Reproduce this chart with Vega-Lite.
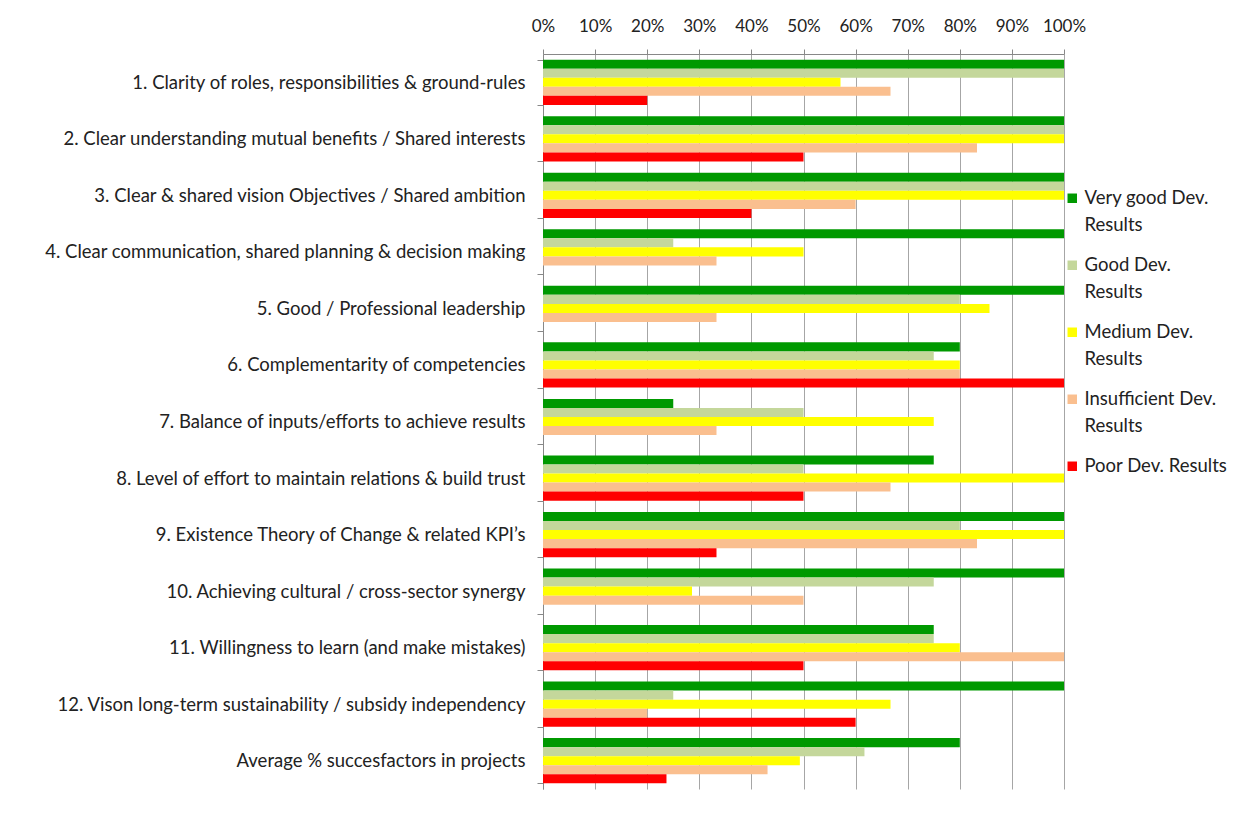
{
  "$schema": "https://vega.github.io/schema/vega-lite/v6.json",
  "width": 521,
  "height": 735,
  "autosize": {"type": "none"},
  "padding": {"left": 543, "top": 54, "right": 184, "bottom": 25},
  "background": "white",
  "data": {
    "values": [
      {"c": "1. Clarity of roles, responsibilities & ground-rules", "a": 1, "b": 1, "m": 0.571, "i": 0.667, "p": 0.2},
      {"c": "2. Clear understanding mutual benefits / Shared interests", "a": 1, "b": 1, "m": 1, "i": 0.833, "p": 0.5},
      {"c": "3. Clear & shared vision Objectives / Shared ambition", "a": 1, "b": 1, "m": 1, "i": 0.6, "p": 0.4},
      {"c": "4. Clear communication, shared planning & decision making", "a": 1, "b": 0.25, "m": 0.5, "i": 0.333, "p": 0},
      {"c": "5. Good / Professional leadership", "a": 1, "b": 0.8, "m": 0.857, "i": 0.333, "p": 0},
      {"c": "6. Complementarity of competencies", "a": 0.8, "b": 0.75, "m": 0.8, "i": 0.8, "p": 1},
      {"c": "7. Balance of inputs/efforts to achieve results", "a": 0.25, "b": 0.5, "m": 0.75, "i": 0.333, "p": 0},
      {"c": "8. Level of effort to maintain relations & build trust", "a": 0.75, "b": 0.5, "m": 1, "i": 0.667, "p": 0.5},
      {"c": "9. Existence Theory of Change & related KPI’s", "a": 1, "b": 0.8, "m": 1, "i": 0.833, "p": 0.333},
      {"c": "10. Achieving cultural / cross-sector synergy ", "a": 1, "b": 0.75, "m": 0.286, "i": 0.5, "p": 0},
      {"c": "11. Willingness to learn (and make mistakes)", "a": 0.75, "b": 0.75, "m": 0.8, "i": 1, "p": 0.5},
      {"c": "12. Vison long-term sustainability / subsidy independency", "a": 1, "b": 0.25, "m": 0.667, "i": 0.2, "p": 0.6},
      {"c": "Average % succesfactors in projects", "a": 0.8, "b": 0.617, "m": 0.493, "i": 0.431, "p": 0.237}
    ]
  },
  "transform": [{"fold": ["a", "b", "m", "i", "p"], "as": ["k", "v"]}],
  "mark": {"type": "bar"},
  "encoding": {
    "y": {
      "field": "c",
      "type": "nominal",
      "sort": null,
      "scale": {"paddingInner": 0.2, "paddingOuter": 0.1},
      "axis": {
        "title": null,
        "tickBand": "extent",
        "labelFont": "Lato",
        "labelFontSize": 18.5,
        "labelColor": "#222222",
        "labelPadding": 12,
        "labelLimit": 600,
        "tickSize": 6,
        "tickColor": "#888888",
        "domainColor": "#888888",
        "grid": false
      }
    },
    "yOffset": {
      "field": "k",
      "sort": ["a", "b", "m", "i", "p"],
      "scale": {"paddingInner": 0, "paddingOuter": 0}
    },
    "x": {
      "field": "v",
      "type": "quantitative",
      "scale": {"domain": [0, 1], "nice": false},
      "axis": {
        "orient": "top",
        "title": null,
        "format": ".0%",
        "values": [0, 0.1, 0.2, 0.3, 0.4, 0.5, 0.6, 0.7, 0.8, 0.9, 1],
        "grid": true,
        "gridColor": "#a6a6a6",
        "tickColor": "#888888",
        "domainColor": "#888888",
        "tickSize": 5,
        "labelPadding": 14,
        "labelFont": "Lato",
        "labelFontSize": 17,
        "labelColor": "#222222",
        "labelFlush": false
      }
    },
    "color": {
      "field": "k",
      "type": "nominal",
      "scale": {
        "domain": ["a", "b", "m", "i", "p"],
        "range": ["#009900", "#c4d79b", "#ffff00", "#fabf8f", "#ff0000"]
      },
      "legend": {
        "title": null,
        "orient": "none",
        "legendX": 520,
        "legendY": 135,
        "symbolType": "square",
        "symbolSize": 90,
        "symbolStrokeWidth": 0,
        "labelFont": "Lato",
        "labelFontSize": 18.5,
        "labelColor": "#222222",
        "labelLimit": 200,
        "labelOffset": 3,
        "rowPadding": 21,
        "labelExpr": "datum.value == 'a' ? ['Very good Dev.', 'Results'] : datum.value == 'b' ? ['Good Dev.', 'Results'] : datum.value == 'm' ? ['Medium Dev.', 'Results'] : datum.value == 'i' ? ['Insufficient Dev.', 'Results'] : 'Poor Dev. Results'"
      }
    }
  },
  "config": {
    "view": {"stroke": null},
    "style": {"guide-label": {"lineHeight": 27}}
  }
}
